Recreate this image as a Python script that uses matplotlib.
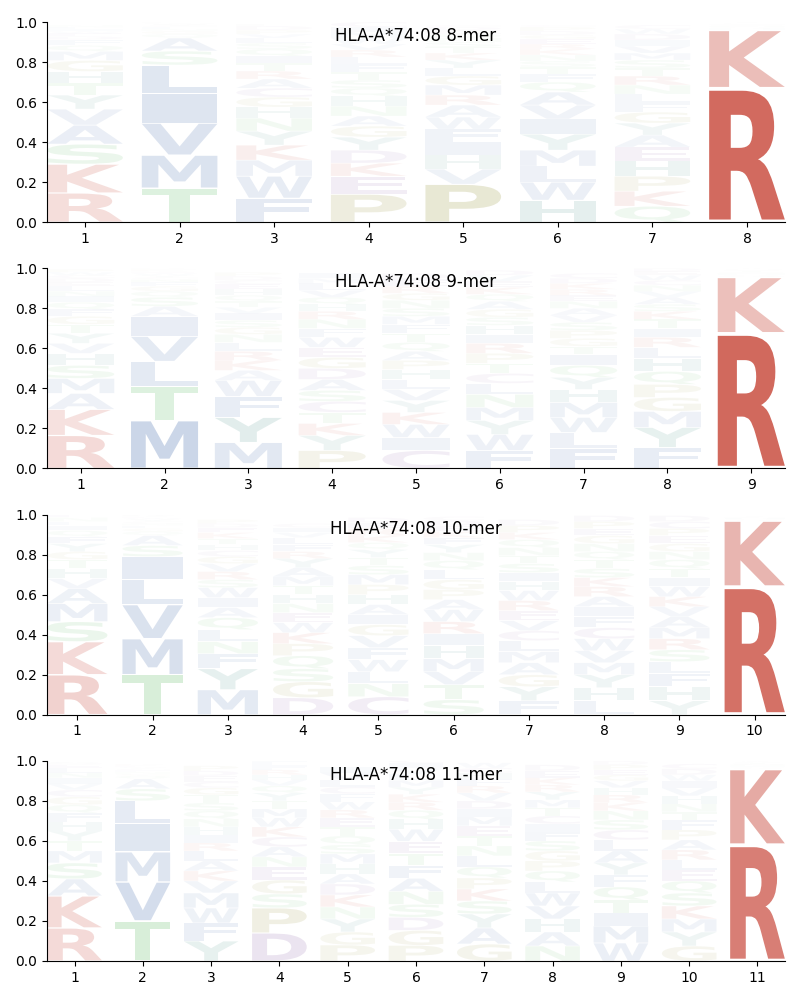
import matplotlib
matplotlib.use('Agg')
import matplotlib.pyplot as plt
from matplotlib.textpath import TextPath
from matplotlib.patches import PathPatch
from matplotlib.transforms import Affine2D
from matplotlib.font_manager import FontProperties

# Letter heights per position, one dict per position
logo_8mer = [
    {'R': .146, 'K': .144, 'S': .10, 'A': .095, 'V': .08, 'T': .06, 'G': .055, 'H': .058, 'Q': .03, 'Y': .07,
     'M': .045, 'F': .03, 'D': .015, 'E': .015, 'W': .01, 'I': .01, 'L': .01, 'N': .01},
    {'T': .17, 'M': .165, 'V': .16, 'I': .15, 'L': .14, 'S': .07, 'A': .065, 'Q': .02, 'G': .015, 'N': .01,
     'F': .01, 'C': .008, 'Y': .005, 'W': .005, 'E': .004, 'K': .003},
    {'F': .12, 'W': .11, 'M': .08, 'K': .075, 'Y': .07, 'N': .065, 'H': .055, 'G': .05, 'C': .045, 'A': .045,
     'R': .04, 'T': .04, 'I': .035, 'Q': .035, 'V': .02, 'S': .03, 'L': .025, 'E': .01, 'P': .02, 'D': .02},
    {'P': .14, 'E': .09, 'K': .065, 'D': .065, 'Y': .065, 'G': .055, 'A': .05, 'N': .05, 'H': .05, 'Q': .04,
     'S': .04, 'T': .04, 'F': .04, 'V': .03, 'L': .035, 'R': .035, 'W': .03, 'M': .03, 'I': .025, 'C': .025},
    {'P': .19, 'V': .075, 'R': .05, 'K': .035, 'H': .07, 'I': .065, 'F': .065, 'W': .06, 'A': .06, 'M': .05,
     'G': .045, 'L': .04, 'Y': .04, 'T': .03, 'S': .025, 'N': .02, 'Q': .02, 'E': .02, 'D': .015, 'C': .01},
    {'H': .11, 'W': .09, 'L': .08, 'M': .08, 'Y': .08, 'I': .075, 'V': .07, 'A': .065, 'Q': .05, 'F': .04,
     'T': .035, 'S': .03, 'N': .03, 'K': .03, 'R': .025, 'E': .025, 'G': .02, 'D': .02, 'P': .02, 'C': .01},
    {'Q': .08, 'K': .075, 'P': .075, 'H': .075, 'E': .07, 'A': .06, 'Y': .06, 'G': .055, 'F': .045, 'L': .045,
     'N': .045, 'R': .045, 'T': .04, 'S': .04, 'M': .035, 'V': .035, 'I': .03, 'D': .03, 'W': .025, 'C': .02},
    {'R': .67, 'K': .29, 'H': .008, 'Q': .006, 'N': .005, 'S': .005, 'T': .004, 'A': .004, 'G': .004, 'Y': .004},
]

logo_9mer = [
    {'R': .165, 'K': .13, 'A': .08, 'M': .075, 'S': .065, 'H': .06, 'V': .05, 'Y': .05, 'T': .045, 'G': .04,
     'F': .035, 'Q': .035, 'I': .03, 'N': .025, 'L': .025, 'E': .02, 'D': .02, 'C': .015, 'W': .015, 'P': .015},
    {'M': .24, 'T': .17, 'L': .125, 'V': .125, 'I': .10, 'A': .05, 'S': .045, 'Q': .03, 'G': .025, 'F': .02,
     'N': .015, 'C': .01, 'Y': .01, 'W': .01, 'E': .008, 'K': .008, 'P': .005, 'R': .004},
    {'M': .13, 'Y': .125, 'F': .105, 'W': .08, 'A': .05, 'K': .05, 'R': .045, 'L': .045, 'N': .04, 'G': .035,
     'S': .035, 'I': .035, 'V': .03, 'T': .03, 'Q': .03, 'H': .03, 'E': .025, 'C': .02, 'D': .02, 'P': .02},
    {'P': .09, 'Y': .075, 'K': .06, 'T': .055, 'C': .055, 'S': .055, 'A': .055, 'D': .055, 'G': .055, 'E': .05,
     'W': .05, 'F': .045, 'N': .045, 'R': .04, 'H': .035, 'Q': .035, 'V': .035, 'L': .035, 'M': .025, 'I': .025},
    {'C': .09, 'I': .065, 'W': .065, 'K': .06, 'Y': .06, 'V': .055, 'L': .05, 'H': .05, 'P': .045, 'A': .045,
     'Q': .045, 'T': .045, 'F': .045, 'M': .04, 'S': .04, 'N': .04, 'G': .035, 'R': .035, 'E': .035, 'D': .03},
    {'F': .09, 'W': .08, 'Y': .07, 'M': .065, 'N': .065, 'L': .055, 'C': .05, 'T': .05, 'P': .05, 'R': .05,
     'I': .045, 'H': .045, 'S': .04, 'G': .04, 'A': .04, 'Q': .035, 'K': .035, 'E': .03, 'V': .03, 'D': .025},
    {'F': .10, 'L': .08, 'W': .075, 'M': .075, 'H': .065, 'Y': .06, 'Q': .06, 'I': .055, 'T': .04, 'G': .04,
     'P': .04, 'S': .04, 'V': .035, 'A': .035, 'N': .035, 'E': .03, 'R': .03, 'K': .03, 'D': .025, 'C': .025},
    {'F': .105, 'Y': .10, 'M': .08, 'G': .07, 'P': .065, 'Q': .065, 'H': .065, 'L': .055, 'R': .05, 'I': .045,
     'T': .045, 'K': .04, 'S': .035, 'A': .035, 'V': .03, 'N': .03, 'C': .025, 'W': .025, 'E': .02, 'D': .015},
    {'R': .676, 'K': .28, 'Q': .008, 'H': .007, 'N': .006, 'S': .005, 'T': .005, 'A': .005, 'G': .004, 'Y': .004},
]

logo_10mer = [
    {'R': .20, 'K': .165, 'S': .10, 'M': .09, 'A': .075, 'V': .05, 'H': .05, 'T': .045, 'G': .04, 'Y': .04,
     'F': .035, 'Q': .03, 'I': .025, 'L': .02, 'N': .02, 'E': .015, 'D': .01},
    {'T': .20, 'M': .18, 'V': .17, 'L': .125, 'I': .115, 'S': .055, 'A': .05, 'Q': .02, 'G': .015, 'F': .015,
     'N': .01, 'C': .01, 'Y': .01, 'W': .008, 'E': .007, 'K': .005, 'R': .005},
    {'M': .125, 'Y': .105, 'F': .075, 'N': .06, 'L': .06, 'Q': .06, 'A': .05, 'I': .05, 'W': .05, 'S': .04,
     'R': .04, 'V': .04, 'G': .035, 'C': .03, 'H': .03, 'T': .03, 'K': .03, 'E': .025, 'D': .02, 'P': .02},
    {'D': .085, 'G': .08, 'S': .065, 'Q': .065, 'P': .06, 'W': .05, 'K': .055, 'E': .05, 'N': .045, 'H': .045,
     'T': .045, 'M': .045, 'A': .045, 'Y': .045, 'R': .035, 'F': .035, 'L': .035, 'V': .025, 'I': .025, 'C': .02},
    {'C': .09, 'L': .06, 'W': .06, 'F': .06, 'V': .06, 'G': .055, 'N': .065, 'I': .05, 'A': .05, 'H': .05,
     'P': .05, 'M': .05, 'S': .045, 'T': .04, 'Y': .04, 'Q': .035, 'K': .035, 'R': .035, 'E': .03, 'D': .025},
    {'S': .075, 'T': .075, 'I': .06, 'R': .06, 'W': .06, 'V': .065, 'M': .065, 'H': .065, 'A': .05, 'P': .05,
     'G': .05, 'L': .05, 'Q': .045, 'N': .04, 'Y': .04, 'F': .035, 'K': .03, 'E': .03, 'D': .025, 'C': .02},
    {'F': .07, 'G': .06, 'Y': .07, 'C': .05, 'V': .05, 'E': .05, 'R': .05, 'M': .055, 'A': .06, 'L': .055,
     'H': .045, 'W': .05, 'I': .045, 'S': .045, 'T': .04, 'N': .04, 'Q': .04, 'K': .035, 'P': .035, 'D': .03},
    {'L': .07, 'H': .065, 'Y': .065, 'C': .055, 'M': .06, 'V': .06, 'W': .06, 'F': .055, 'I': .05, 'A': .05,
     'R': .05, 'K': .045, 'S': .045, 'T': .045, 'Q': .04, 'N': .04, 'G': .04, 'E': .035, 'P': .035, 'D': .03},
    {'Y': .07, 'H': .07, 'F': .065, 'L': .06, 'S': .06, 'R': .055, 'M': .055, 'A': .055, 'V': .05, 'K': .05,
     'W': .05, 'I': .045, 'T': .045, 'Q': .045, 'N': .04, 'G': .04, 'E': .04, 'P': .035, 'C': .035, 'D': .03},
    {'R': .64, 'K': .33, 'Q': .006, 'H': .005, 'N': .005, 'S': .004, 'T': .004, 'A': .003, 'G': .003},
]

logo_11mer = [
    {'R': .165, 'K': .16, 'A': .085, 'S': .08, 'T': .05, 'M': .06, 'H': .045, 'F': .045, 'Y': .05, 'Q': .04,
     'G': .04, 'C': .035, 'V': .03, 'N': .025, 'I': .03, 'L': .025, 'E': .015, 'D': .01, 'W': .005},
    {'T': .20, 'V': .195, 'M': .15, 'I': .14, 'L': .115, 'S': .06, 'A': .05, 'Q': .015, 'G': .01, 'N': .01,
     'F': .008, 'C': .007, 'Y': .005, 'W': .005, 'E': .005, 'K': .005, 'R': .005},
    {'Y': .10, 'F': .09, 'W': .075, 'M': .075, 'V': .06, 'K': .05, 'A': .05, 'L': .05, 'R': .04, 'I': .04,
     'H': .04, 'G': .035, 'N': .04, 'Q': .04, 'S': .04, 'T': .04, 'C': .03, 'E': .03, 'D': .025, 'P': .025},
    {'D': .14, 'P': .125, 'S': .07, 'G': .07, 'E': .065, 'N': .05, 'A': .05, 'C': .05, 'K': .05, 'W': .045,
     'M': .045, 'T': .04, 'Y': .04, 'Q': .035, 'V': .03, 'H': .025, 'R': .025, 'F': .02, 'L': .02, 'I': .015},
    {'P': .08, 'G': .065, 'Y': .065, 'N': .06, 'K': .06, 'D': .055, 'A': .05, 'H': .05, 'M': .05, 'S': .045,
     'Q': .045, 'T': .045, 'E': .045, 'R': .04, 'W': .04, 'F': .04, 'C': .035, 'L': .035, 'V': .035, 'I': .03},
    {'P': .078, 'G': .075, 'D': .065, 'S': .065, 'N': .065, 'A': .065, 'F': .065, 'T': .06, 'E': .06, 'W': .06,
     'H': .05, 'Q': .045, 'R': .04, 'K': .04, 'Y': .035, 'M': .035, 'L': .03, 'V': .03, 'I': .025, 'C': .02},
    {'G': .085, 'A': .08, 'Y': .07, 'S': .065, 'K': .06, 'P': .055, 'Q': .055, 'L': .055, 'N': .05, 'T': .05,
     'E': .05, 'M': .045, 'I': .04, 'D': .04, 'V': .04, 'R': .035, 'F': .035, 'H': .03, 'C': .025, 'W': .025},
    {'N': .075, 'A': .07, 'H': .065, 'V': .065, 'W': .065, 'L': .055, 'Q': .055, 'P': .05, 'G': .05, 'S': .05,
     'F': .045, 'I': .04, 'C': .04, 'T': .04, 'M': .04, 'Y': .04, 'R': .035, 'K': .035, 'E': .035, 'D': .03},
    {'W': .09, 'M': .085, 'I': .065, 'T': .065, 'Q': .065, 'F': .06, 'Y': .06, 'A': .06, 'L': .055, 'C': .05,
     'S': .05, 'K': .04, 'N': .045, 'R': .04, 'H': .035, 'V': .035, 'G': .03, 'E': .025, 'P': .025, 'D': .02},
    {'G': .075, 'Y': .07, 'M': .065, 'K': .065, 'S': .065, 'Q': .06, 'E': .055, 'L': .05, 'R': .05, 'A': .05,
     'P': .05, 'F': .05, 'T': .04, 'N': .04, 'H': .04, 'V': .04, 'I': .035, 'W': .03, 'D': .03, 'C': .025},
    {'R': .58, 'K': .38, 'Q': .008, 'H': .007, 'N': .006, 'S': .005, 'T': .005, 'A': .005, 'G': .004},
]

logos = [logo_8mer, logo_9mer, logo_10mer, logo_11mer]
titles = ['HLA-A*74:08 8-mer', 'HLA-A*74:08 9-mer', 'HLA-A*74:08 10-mer', 'HLA-A*74:08 11-mer']

# Amino acid colour groups
aa_colors = {}
for aa in 'AVLIMFW':
    aa_colors[aa] = '#4C72B0'
for aa in 'KR':
    aa_colors[aa] = '#C74638'
for aa in 'STNQ':
    aa_colors[aa] = '#5DBB63'
for aa in 'PG':
    aa_colors[aa] = '#9C9A45'
for aa in 'DEC':
    aa_colors[aa] = '#8B5FA8'
for aa in 'HY':
    aa_colors[aa] = '#3F8C82'

font = FontProperties(family='DejaVu Sans', weight='bold')


def draw_letter(ax, char, x, bottom, width, height, color, alpha):
    tp = TextPath((0, 0), char, size=1, prop=font)
    bb = tp.get_extents()
    tr = Affine2D().translate(-bb.x0, -bb.y0) \
        .scale(width / bb.width, height / bb.height) \
        .translate(x - width / 2, bottom)
    ax.add_patch(PathPatch(tr.transform_path(tp), facecolor=color,
                           edgecolor='none', alpha=alpha))


fig, axes = plt.subplots(4, 1, figsize=(8, 10))
fig.subplots_adjust(left=0.059, right=0.981, top=0.978, bottom=0.039, hspace=0.23)

for ax, logo, title in zip(axes, logos, titles):
    n = len(logo)
    for pos, col in enumerate(logo, start=1):
        y = 0.0
        # biggest letter at the bottom
        for aa, h in sorted(col.items(), key=lambda kv: -kv[1]):
            pad = 0.04 * h
            alpha = min(1.0, 1.2 * h)
            draw_letter(ax, aa, pos, y + pad / 2, 0.8, h - pad, aa_colors[aa], alpha)
            y += h
    ax.set_xlim(0.6, n + 0.4)
    ax.set_ylim(0, 1)
    ax.set_xticks(range(1, n + 1))
    ax.set_yticks([0, 0.2, 0.4, 0.6, 0.8, 1.0])
    ax.spines['top'].set_visible(False)
    ax.spines['right'].set_visible(False)
    ax.text(0.5, 0.93, title, transform=ax.transAxes, ha='center', va='center', fontsize=12)

fig.savefig('out.png', dpi=100)
